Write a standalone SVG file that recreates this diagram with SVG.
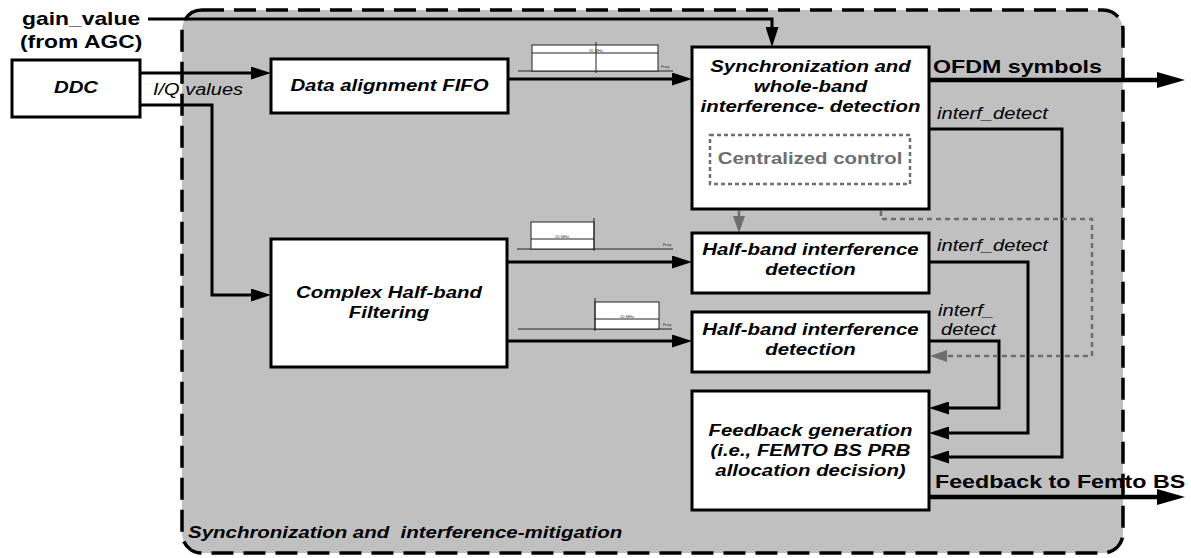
<svg xmlns="http://www.w3.org/2000/svg" width="1191" height="558" viewBox="0 0 1191 558">
<style>
text{font-family:"Liberation Sans",Arial,Helvetica,sans-serif;fill:#000}
.box{fill:#fff;stroke:#000;stroke-width:3}
.bt{font-size:17px;font-weight:bold;font-style:italic;text-anchor:middle}
.lab{font-size:18px;font-weight:bold}
.it{font-size:16px;font-style:italic}
.con{fill:none;stroke:#000;stroke-width:3}
.big{fill:none;stroke:#000;stroke-width:4.5}
.gd{fill:none;stroke:#6e6e6e;stroke-width:2.5;stroke-dasharray:5 4}
.sp{fill:none;stroke:#222;stroke-width:1}
.spr{fill:#fff;stroke:#222;stroke-width:1}
.tiny{font-size:4px;fill:#333;text-anchor:middle}
</style>
<defs>
<marker id="ar" markerUnits="userSpaceOnUse" markerWidth="20" markerHeight="13" refX="10" refY="6.5" orient="auto"><path d="M0,0 L20,6.5 L0,13 z" fill="#000"/></marker>
<marker id="arb" markerUnits="userSpaceOnUse" markerWidth="28" markerHeight="16" refX="14" refY="8" orient="auto"><path d="M0,0 L28,8 L0,16 z" fill="#000"/></marker>
<marker id="arg" markerUnits="userSpaceOnUse" markerWidth="17" markerHeight="12" refX="8" refY="6" orient="auto"><path d="M0,0 L17,6 L0,12 z" fill="#6e6e6e"/></marker>
</defs>

<g id="container">
<rect x="182" y="10" width="941" height="543" rx="20" fill="#c0c0c0" stroke="#000" stroke-width="3.5" stroke-dasharray="22 10"/>
<text class="lab" style="font-size:16px;font-style:italic" transform="translate(188,538) scale(1.28,1)">Synchronization and&#160; interference-mitigation</text>
</g>

<g id="gain-label">
<text class="lab" transform="translate(22,25) scale(1.27,1)">gain_value</text>
<text class="lab" transform="translate(20,48) scale(1.27,1)">(from AGC)</text>
</g>

<g id="spectra">
<line class="sp" x1="518" y1="71" x2="673" y2="71"/>
<rect class="spr" x="532" y="45" width="126" height="26"/>
<line class="sp" x1="532" y1="53" x2="658" y2="53"/>
<line class="sp" x1="596" y1="42" x2="596" y2="73"/>
<text class="tiny" x="596" y="52">20 MHz</text>
<text class="tiny" x="665" y="68">Freq</text>

<line class="sp" x1="517" y1="249" x2="673" y2="249"/>
<rect class="spr" x="531" y="222" width="63" height="27"/>
<line class="sp" x1="531" y1="239" x2="594" y2="239"/>
<line class="sp" x1="594" y1="218" x2="594" y2="251"/>
<text class="tiny" x="562" y="238">10 MHz</text>
<text class="tiny" x="667" y="246">Freq</text>

<line class="sp" x1="518" y1="329" x2="672" y2="329"/>
<rect class="spr" x="595" y="302" width="64" height="27"/>
<line class="sp" x1="595" y1="319" x2="659" y2="319"/>
<line class="sp" x1="595" y1="298" x2="595" y2="331"/>
<text class="tiny" x="627" y="318">10 MHz</text>
<text class="tiny" x="667" y="326">Freq</text>
</g>

<g id="connectors">
<path class="con" d="M148,19 H772 V37" marker-end="url(#ar)"/>
<path class="con" d="M140,73 H261" marker-end="url(#ar)"/>
<path class="con" d="M140,105 H212 V295 H261" marker-end="url(#ar)"/>
<path class="con" d="M508,79 H682" marker-end="url(#ar)"/>
<path class="con" d="M507,262 H682" marker-end="url(#ar)"/>
<path class="con" d="M507,341 H682" marker-end="url(#ar)"/>
<path class="big" d="M929,80 H1171" marker-end="url(#arb)"/>
<path class="con" d="M929,129 H1062 V457 H939" marker-end="url(#ar)"/>
<path class="con" d="M929,262 H1028 V433 H939" marker-end="url(#ar)"/>
<path class="con" d="M929,341 H999 V408 H939" marker-end="url(#ar)"/>
<path class="big" d="M929,497 H1171" marker-end="url(#arb)"/>
<path class="gd" d="M739,184 V224" marker-end="url(#arg)"/>
<path class="gd" d="M881,184 V219 H1092 V356 H939" marker-end="url(#arg)"/>
<text class="it" transform="translate(153,95) scale(1.25,1)">I/Q values</text>
<text class="lab" transform="translate(933,73) scale(1.29,1)">OFDM symbols</text>
<text class="it" transform="translate(937,119) scale(1.26,1)">interf_detect</text>
<text class="it" transform="translate(937,251) scale(1.26,1)">interf_detect</text>
<text class="it" transform="translate(938,316) scale(1.26,1)">interf_</text>
<text class="it" transform="translate(941,335) scale(1.26,1)">detect</text>
<text class="lab" transform="translate(935,488) scale(1.29,1)">Feedback to Femto BS</text>
</g>

<g id="ddc">
<rect class="box" x="12" y="60" width="128" height="57"/>
<text class="bt" transform="translate(76,93) scale(1.2,1)">DDC</text>
</g>

<g id="fifo">
<rect class="box" x="271" y="59" width="237" height="54"/>
<text class="bt" transform="translate(389.5,91) scale(1.2,1)">Data alignment FIFO</text>
</g>

<g id="complex-filter">
<rect class="box" x="271" y="239" width="236" height="128"/>
<text class="bt" transform="translate(389,298) scale(1.2,1)">Complex Half-band</text>
<text class="bt" transform="translate(389,318) scale(1.2,1)">Filtering</text>
</g>

<g id="sync">
<rect class="box" x="692" y="47" width="237" height="162"/>
<text class="bt" transform="translate(810.5,72) scale(1.2,1)">Synchronization and</text>
<text class="bt" transform="translate(810.5,92) scale(1.2,1)">whole-band</text>
<text class="bt" transform="translate(810.5,112) scale(1.2,1)">interference- detection</text>
</g>

<g id="central-control">
<rect x="710" y="135" width="200" height="49" fill="none" stroke="#6e6e6e" stroke-width="2.5" stroke-dasharray="4 3"/>
<text class="bt" style="font-style:normal;fill:#6e6e6e" transform="translate(810,164) scale(1.2,1)">Centralized control</text>
</g>

<g id="halfband1">
<rect class="box" x="692" y="233" width="237" height="60"/>
<text class="bt" transform="translate(810.5,255) scale(1.2,1)">Half-band interference</text>
<text class="bt" transform="translate(810.5,275) scale(1.2,1)">detection</text>
</g>

<g id="halfband2">
<rect class="box" x="692" y="312" width="237" height="60"/>
<text class="bt" transform="translate(810.5,335) scale(1.2,1)">Half-band interference</text>
<text class="bt" transform="translate(810.5,355) scale(1.2,1)">detection</text>
</g>

<g id="feedback">
<rect class="box" x="692" y="391" width="237" height="119"/>
<text class="bt" transform="translate(810.5,436) scale(1.2,1)">Feedback generation</text>
<text class="bt" transform="translate(810.5,456) scale(1.2,1)">(i.e., FEMTO BS PRB</text>
<text class="bt" transform="translate(810.5,476) scale(1.2,1)">allocation decision)</text>
</g>
</svg>
